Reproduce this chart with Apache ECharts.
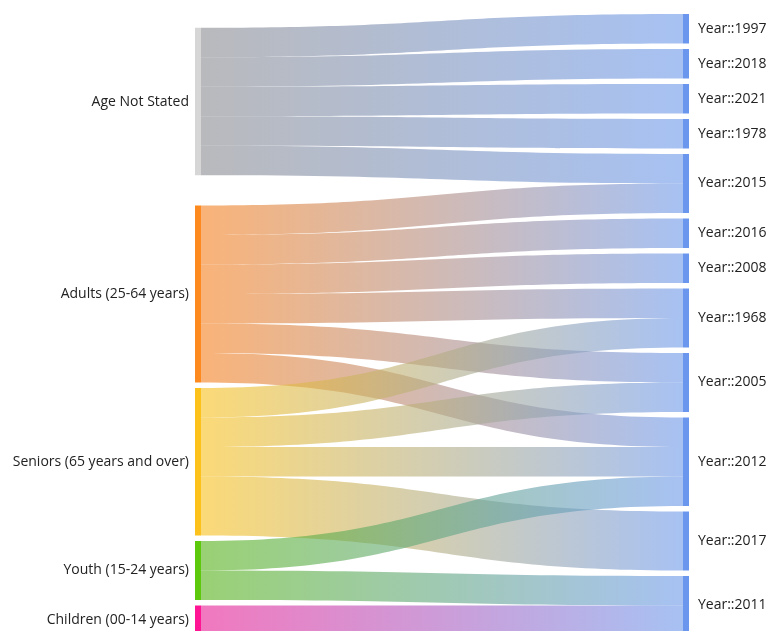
<!DOCTYPE html>
<html>
<head>
<meta charset="utf-8">
<script src="https://cdn.jsdelivr.net/npm/echarts@6/dist/echarts.min.js"></script>
<style>
  html, body { margin: 0; padding: 0; background: #fff; }
  #chart { width: 766px; height: 631px; }
</style>
</head>
<body>
<div id="chart"></div>
<script>
// Age groups (left column) and years (right column)
const ageGroups = [
  'Age Not Stated',
  'Adults (25-64 years)',
  'Seniors (65 years and over)',
  'Youth (15-24 years)',
  'Children (00-14 years)'
];
const years = [
  'Year::1997', 'Year::2018', 'Year::2021', 'Year::1978', 'Year::2015',
  'Year::2016', 'Year::2008', 'Year::1968', 'Year::2005', 'Year::2012',
  'Year::2017', 'Year::2011'
];

// Flows: source age group -> year, with counts
const flowSources = [
  'Age Not Stated', 'Age Not Stated', 'Age Not Stated', 'Age Not Stated', 'Age Not Stated',
  'Adults (25-64 years)', 'Adults (25-64 years)', 'Adults (25-64 years)',
  'Adults (25-64 years)', 'Adults (25-64 years)', 'Adults (25-64 years)',
  'Seniors (65 years and over)', 'Seniors (65 years and over)',
  'Seniors (65 years and over)', 'Seniors (65 years and over)',
  'Youth (15-24 years)', 'Youth (15-24 years)',
  'Children (00-14 years)'
];
const flowTargets = [
  'Year::1997', 'Year::2018', 'Year::2021', 'Year::1978', 'Year::2015',
  'Year::2015', 'Year::2016', 'Year::2008', 'Year::1968', 'Year::2005', 'Year::2012',
  'Year::1968', 'Year::2005', 'Year::2012', 'Year::2017',
  'Year::2012', 'Year::2011',
  'Year::2011'
];
const flowValues = [
  1, 1, 1, 1, 1,
  1, 1, 1, 1, 1, 1,
  1, 1, 1, 2,
  1, 1,
  1
];

// Colours
const ageNodeColors = ['#d6d6d6', '#fd8a1e', '#fcc21b', '#5cc90c', '#ff1493'];
const ageFlowColors = ['#8a8b90', '#f5801e', '#f8c01c', '#55b217', '#e81e94'];
const yearNodeColor = '#6a96ee';
const yearFlowColor = '#6c98ea';

const FONT = '"Open Sans", "Noto Sans", sans-serif';

const nodes = [];
ageGroups.forEach((name, i) => {
  nodes.push({
    name,
    itemStyle: { color: ageNodeColors[i] },
    label: { position: 'left', distance: 6 }
  });
});
years.forEach(name => {
  nodes.push({
    name,
    itemStyle: { color: yearNodeColor },
    label: { position: 'right', distance: 9 }
  });
});

const links = flowSources.map((src, i) => ({
  source: src,
  target: flowTargets[i],
  value: flowValues[i],
  lineStyle: {
    color: {
      type: 'linear', x: 0, y: 0, x2: 1, y2: 0,
      colorStops: [
        { offset: 0, color: ageFlowColors[ageGroups.indexOf(src)] },
        { offset: 1, color: yearFlowColor }
      ]
    }
  }
}));

const chart = echarts.init(document.getElementById('chart'), null, { renderer: 'canvas' });
chart.setOption({
  animation: false,
  series: [{
    type: 'sankey',
    left: 195,
    right: 77,
    top: 14,
    bottom: -4,
    nodeWidth: 6,
    nodeGap: 5.5,
    nodeAlign: 'justify',
    layoutIterations: 1,
    data: nodes,
    links: links,
    emphasis: { disabled: true },
    label: {
      color: '#222',
      fontSize: 14,
      fontFamily: FONT
    },
    itemStyle: { borderWidth: 0 },
    lineStyle: { opacity: 0.6, curveness: 0.5 }
  }]
});
</script>
</body>
</html>
